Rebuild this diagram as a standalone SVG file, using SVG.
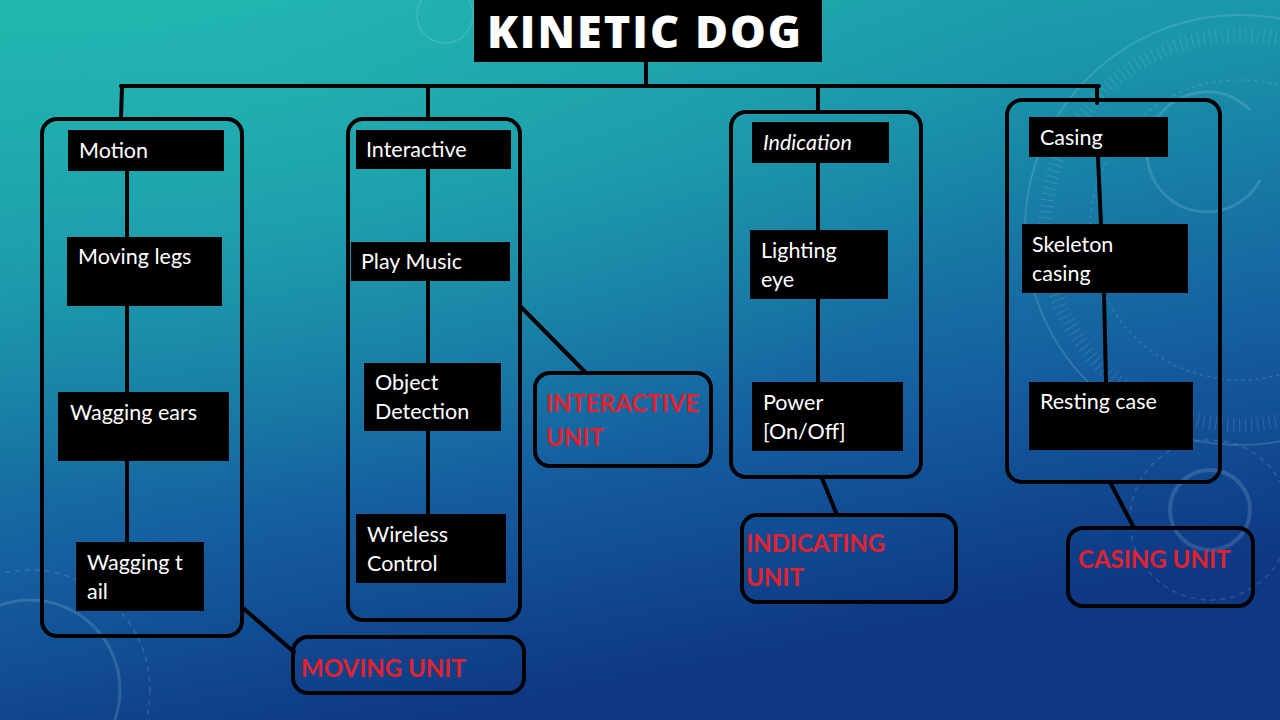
<svg xmlns="http://www.w3.org/2000/svg" width="1280" height="720" viewBox="0 0 1280 720">
  <defs>
    <linearGradient id="bg" x1="0" y1="0" x2="0.35" y2="1">
      <stop offset="0" stop-color="#1fb4ae"/>
      <stop offset="0.35" stop-color="#1a94aa"/>
      <stop offset="0.7" stop-color="#1560a0"/>
      <stop offset="1" stop-color="#0e3784"/>
    </linearGradient>
    <radialGradient id="glow" cx="0.2" cy="0.1" r="0.6">
      <stop offset="0" stop-color="#2cc4b6" stop-opacity="0.35"/>
      <stop offset="1" stop-color="#2cc4b6" stop-opacity="0"/>
    </radialGradient>
    <style>
      .unit { fill: none; stroke: #000; stroke-width: 4; }
      .node { fill: #000; }
      .ntext { font-family: Lato, "Liberation Sans", sans-serif; font-size: 21.5px; fill: #fff; }
      .label { font-family: Lato, "Liberation Sans", sans-serif; font-size: 24px; font-weight: bold; fill: #e3222e; }
      .wire { fill: none; stroke: #000; stroke-width: 4; stroke-linecap: round; }
      .deco { fill: none; stroke: #cfeff5; stroke-opacity: 0.16; }
    </style>
  </defs>

  <!-- backdrop -->
  <rect width="1280" height="720" fill="url(#bg)"/>
  <rect width="1280" height="720" fill="url(#glow)"/>

  <!-- faint dial ornaments -->
  <g id="ornaments">
    <circle class="deco" cx="445" cy="15" r="28" stroke-width="1.5" stroke-opacity="0.1"/>
    <circle class="deco" cx="1240" cy="230" r="215" stroke-width="2"/>
    <circle class="deco" cx="1240" cy="230" r="195" stroke-width="14" stroke-dasharray="1 5" stroke-opacity="0.12"/>
    <circle class="deco" cx="1240" cy="230" r="150" stroke-width="1.5" stroke-dasharray="3 4"/>
    <path class="deco" d="M1250 110 A 60 60 0 1 0 1260 180" stroke-width="3"/>
    <circle class="deco" cx="1210" cy="520" r="80" stroke-width="1.5" stroke-dasharray="5 5"/>
    <circle class="deco" cx="1210" cy="510" r="40" stroke-width="4"/>
    <circle class="deco" cx="30" cy="690" r="90" stroke-width="3"/>
    <circle class="deco" cx="30" cy="690" r="120" stroke-width="1.5" stroke-dasharray="5 5"/>
  </g>

  <!-- title -->
  <g id="title">
    <rect x="474" y="0" width="348" height="62" fill="#000"/>
    <text x="645" y="48" text-anchor="middle" font-family="'Open Sans', 'Liberation Sans', sans-serif" font-weight="800" font-size="45" letter-spacing="2" fill="#fff">KINETIC DOG</text>
  </g>

  <!-- connectors -->
  <g id="connectors">
    <path class="wire" d="M646 62 V86"/>
    <path class="wire" d="M121 86 H1099"/>
    <path class="wire" d="M122 86 L121 118"/>
    <path class="wire" d="M428 86 V117"/>
    <path class="wire" d="M818 86 V110"/>
    <path class="wire" d="M1097 86 V103"/>
    <path class="wire" d="M127 171 V542"/>
    <path class="wire" d="M428 169 V514"/>
    <path class="wire" d="M818 163 V382"/>
    <path class="wire" d="M1098 157 L1101 224 M1104 293 L1106 382"/>
    <path class="wire" d="M521 307 L586 373"/>
    <path class="wire" d="M243 608 L294 652"/>
    <path class="wire" d="M822 478 L837 515"/>
    <path class="wire" d="M1110 482 L1134 528"/>
  </g>

  <!-- unit frames -->
  <g id="unit-moving"><rect class="unit" x="42" y="119" width="200" height="517" rx="15"/></g>
  <g id="unit-interactive"><rect class="unit" x="348" y="119" width="172" height="501" rx="15"/></g>
  <g id="unit-indicating"><rect class="unit" x="731" y="112" width="190" height="365" rx="15"/></g>
  <g id="unit-casing"><rect class="unit" x="1007" y="100" width="213" height="382" rx="15"/></g>

  <!-- motion nodes -->
  <g id="motion"><rect class="node" x="68" y="130" width="156" height="41"/><text class="ntext" x="79" y="158">Motion</text></g>
  <g id="moving-legs"><rect class="node" x="67" y="237" width="155" height="69"/><text class="ntext" x="78" y="264">Moving legs</text></g>
  <g id="wagging-ears"><rect class="node" x="58" y="392" width="171" height="69"/><text class="ntext" x="70" y="420">Wagging ears</text></g>
  <g id="wagging-tail"><rect class="node" x="76" y="542" width="128" height="69"/><text class="ntext" x="87" y="570">Wagging t</text><text class="ntext" x="87" y="599">ail</text></g>

  <!-- interactive nodes -->
  <g id="interactive"><rect class="node" x="356" y="130" width="155" height="39"/><text class="ntext" x="366" y="157">Interactive</text></g>
  <g id="play-music"><rect class="node" x="351" y="242" width="159" height="39"/><text class="ntext" x="361" y="269">Play Music</text></g>
  <g id="object-detection"><rect class="node" x="364" y="363" width="137" height="68"/><text class="ntext" x="375" y="390">Object</text><text class="ntext" x="375" y="419">Detection</text></g>
  <g id="wireless-control"><rect class="node" x="356" y="514" width="150" height="69"/><text class="ntext" x="367" y="542">Wireless</text><text class="ntext" x="367" y="571">Control</text></g>

  <!-- indication nodes -->
  <g id="indication"><rect class="node" x="752" y="122" width="137" height="41"/><text class="ntext" x="763" y="150" font-style="italic">Indication</text></g>
  <g id="lighting-eye"><rect class="node" x="750" y="230" width="138" height="69"/><text class="ntext" x="761" y="258">Lighting</text><text class="ntext" x="761" y="287">eye</text></g>
  <g id="power"><rect class="node" x="752" y="382" width="151" height="69"/><text class="ntext" x="763" y="410">Power</text><text class="ntext" x="763" y="439">[On/Off]</text></g>

  <!-- casing nodes -->
  <g id="casing"><rect class="node" x="1029" y="117" width="139" height="40"/><text class="ntext" x="1040" y="145">Casing</text></g>
  <g id="skeleton-casing"><rect class="node" x="1022" y="224" width="166" height="69"/><text class="ntext" x="1032" y="252">Skeleton</text><text class="ntext" x="1032" y="281">casing</text></g>
  <g id="resting-case"><rect class="node" x="1029" y="382" width="164" height="68"/><text class="ntext" x="1040" y="409">Resting case</text></g>

  <!-- unit labels -->
  <g id="label-interactive"><rect class="unit" x="535" y="373" width="176" height="93" rx="15"/><text class="label" x="546" y="412">INTERACTIVE</text><text class="label" x="546" y="446">UNIT</text></g>
  <g id="label-moving"><rect class="unit" x="293" y="637" width="231" height="56" rx="15"/><text class="label" x="301" y="677">MOVING UNIT</text></g>
  <g id="label-indicating"><rect class="unit" x="742" y="515" width="214" height="87" rx="15"/><text class="label" x="746" y="552">INDICATING</text><text class="label" x="746" y="586">UNIT</text></g>
  <g id="label-casing"><rect class="unit" x="1068" y="528" width="185" height="78" rx="15"/><text class="label" x="1078" y="568">CASING UNIT</text></g>
</svg>
